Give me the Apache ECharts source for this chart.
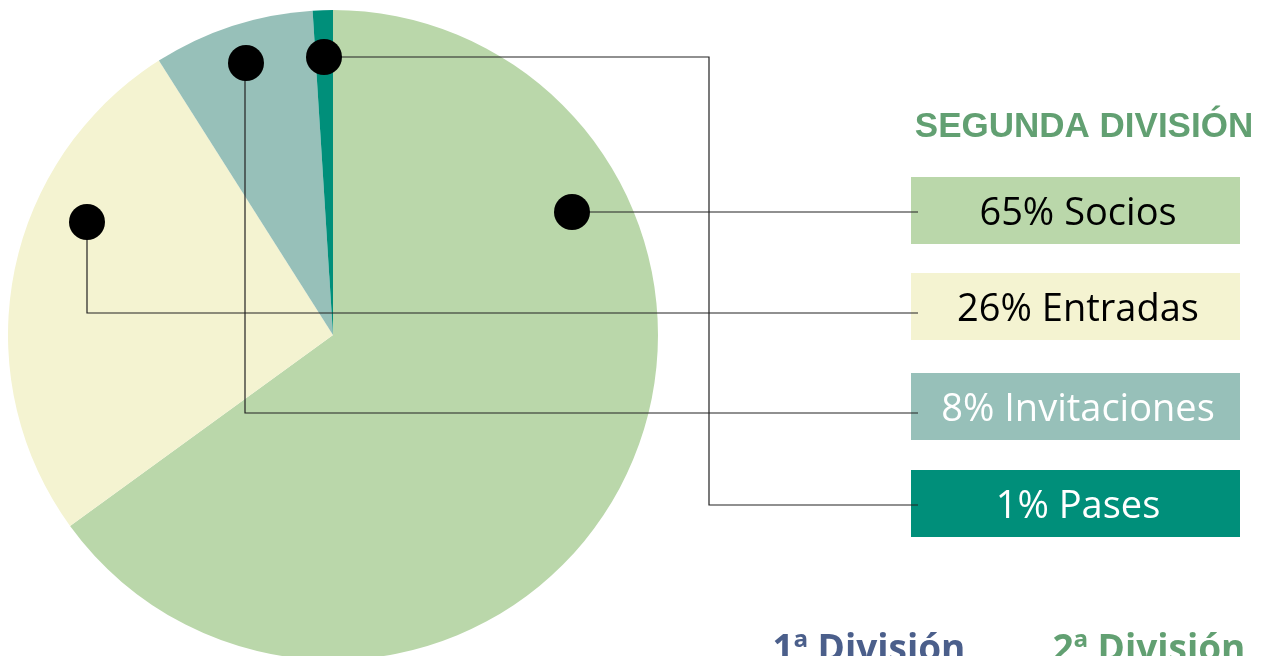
<!DOCTYPE html>
<html>
<head>
<meta charset="utf-8">
<script src="https://cdn.jsdelivr.net/npm/echarts@6/dist/echarts.min.js"></script>
<style>
  html, body { margin: 0; padding: 0; background: #fff; }
  #chart { width: 1263px; height: 656px; }
</style>
</head>
<body>
<div id="chart"></div>
<script>
var categories = ['Socios', 'Entradas', 'Invitaciones', 'Pases'];
var values = [65, 26, 8, 1];
var colors = ['#bad7aa', '#f4f3d1', '#97c0b9', '#008f7a'];
var textColors = ['#000', '#000', '#fff', '#fff'];
var titleText = 'SEGUNDA DIVISIÓN';
var footerLabels = ['1ª División', '2ª División'];

// where the black markers sit on the pie and how their leader lines run
var markers = [
  { dot: [572, 212], path: [[572, 212], [918, 212]] },
  { dot: [87, 222], path: [[87, 222], [87, 313], [918, 313]] },
  { dot: [246, 63], path: [[245, 63], [245, 413], [918, 413]] },
  { dot: [324, 57], path: [[324, 57], [709, 57], [709, 505], [918, 505]] }
];
var boxTops = [177, 273, 373, 470];

var myChart = echarts.init(document.getElementById('chart'));

var graphics = [];

// legend boxes
categories.forEach(function (name, i) {
  graphics.push({
    type: 'rect',
    shape: { x: 911, y: boxTops[i], width: 329, height: 67 },
    style: { fill: colors[i] },
    z: 10
  });
  graphics.push({
    type: 'text',
    x: 1078, y: boxTops[i] + 37,
    style: {
      text: values[i] + '% ' + name,
      fill: textColors[i],
      font: '38px "Open Sans"',
      textAlign: 'center',
      textVerticalAlign: 'middle'
    },
    z: 12
  });
});

// leader lines + dots
markers.forEach(function (m) {
  graphics.push({
    type: 'polyline',
    shape: { points: m.path },
    style: { stroke: '#222', lineWidth: 1.2, fill: null },
    z: 11
  });
  graphics.push({
    type: 'circle',
    shape: { cx: m.dot[0], cy: m.dot[1], r: 18 },
    style: { fill: '#000' },
    z: 12
  });
});

graphics.push({
  type: 'text',
  x: 1084, y: 127,
  style: {
    text: titleText,
    fill: '#62a072',
    font: 'bold 35px "Liberation Sans"',
    textAlign: 'center',
    textVerticalAlign: 'middle'
  },
  z: 12
});

graphics.push({
  type: 'text',
  x: 869, y: 650,
  style: {
    text: footerLabels[0],
    fill: '#4b5f8b',
    font: 'bold 37px "Open Sans"',
    textAlign: 'center',
    textVerticalAlign: 'middle'
  },
  z: 12
});
graphics.push({
  type: 'text',
  x: 1149, y: 650,
  style: {
    text: footerLabels[1],
    fill: '#62a072',
    font: 'bold 37px "Open Sans"',
    textAlign: 'center',
    textVerticalAlign: 'middle'
  },
  z: 12
});

var option = {
  backgroundColor: '#fff',
  animation: false,
  series: [{
    type: 'pie',
    center: [333, 335],
    radius: 325,
    startAngle: 90,
    clockwise: true,
    silent: true,
    label: { show: false },
    labelLine: { show: false },
    itemStyle: { borderWidth: 0 },
    data: categories.map(function (name, i) {
      return { name: name, value: values[i], itemStyle: { color: colors[i] } };
    })
  }],
  graphic: graphics
};

myChart.setOption(option);
</script>
</body>
</html>
